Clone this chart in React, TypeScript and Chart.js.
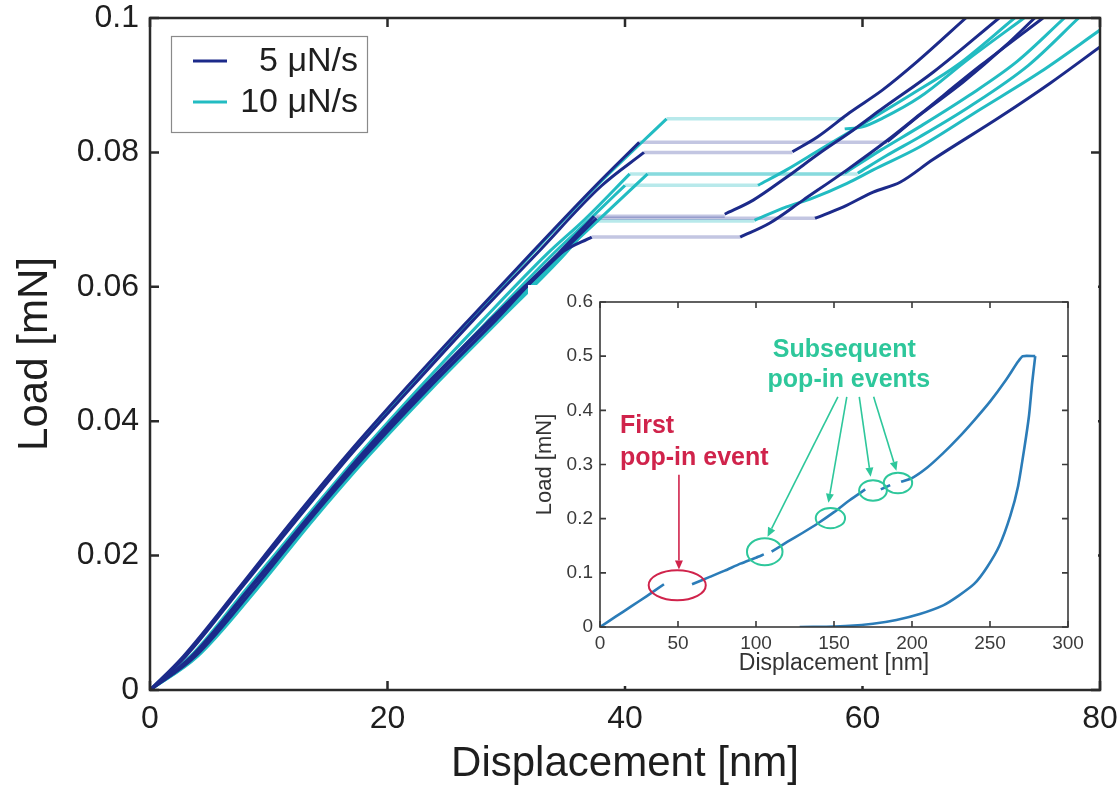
import React, { useEffect, useRef } from 'react';
import { Chart, registerables } from 'chart.js';

Chart.register(...registerables);

const FONT = "'Liberation Sans', Arial, Helvetica, sans-serif";

// ---------- main chart axes ----------
const xTicks = [0, 20, 40, 60, 80];
const xTickLabels = ['0', '20', '40', '60', '80'];
const yTicks = [0, 0.02, 0.04, 0.06, 0.08, 0.1];
const yTickLabels = ['0', '0.02', '0.04', '0.06', '0.08', '0.1'];
const seriesNames = ['5 μN/s', '10 μN/s'];

// ---------- 5 μN/s tests (loading up to the pop-in, loading after the pop-in) ----------
const n1LoadX = [0, 2.8, 7.4, 11.9, 16.6, 21.6, 26.8, 32.1, 37.5, 41.2];
const n1LoadY = [0, 0.005, 0.015, 0.025, 0.035, 0.045, 0.055, 0.065, 0.075, 0.0815];
const n1PostX = [62.1, 65, 68.5, 72, 74.5];
const n1PostY = [0.0816, 0.0858, 0.0905, 0.0958, 0.1];

const n2LoadX = [0, 3.0, 7.6, 12.2, 16.9, 22.0, 27.2, 32.6, 38.0, 41.6];
const n2LoadY = [0, 0.005, 0.015, 0.025, 0.035, 0.045, 0.055, 0.065, 0.075, 0.08];
const n2PostX = [54.1, 56.2, 58.9, 61.7, 64.6, 68.7];
const n2PostY = [0.0801, 0.0823, 0.0859, 0.0893, 0.0935, 0.1];

const n3LoadX = [0, 3.5, 8.3, 13.0, 17.8, 23.0, 28.6, 34.4, 37.4];
const n3LoadY = [0, 0.005, 0.015, 0.025, 0.035, 0.045, 0.055, 0.065, 0.0705];
const n3PostX = [48.4, 50.8, 53.6, 56.4, 59.2, 61.5, 66, 71.5];
const n3PostY = [0.0708, 0.0729, 0.0763, 0.0799, 0.0833, 0.0863, 0.092, 0.1];

const n4LoadX = [0, 3.8, 8.7, 13.3, 18.2, 23.5, 29.1, 34.6, 37.2];
const n4LoadY = [0, 0.005, 0.015, 0.025, 0.035, 0.045, 0.055, 0.065, 0.0674];
const n4PostX = [49.7, 52.2, 55.0, 58.7, 62.1, 64.8, 70, 75.2];
const n4PostY = [0.0674, 0.0695, 0.0729, 0.0774, 0.0818, 0.0856, 0.093, 0.1];

const n5LoadX = [0, 3.6, 8.4, 13.1, 18.0, 23.2, 28.8, 34.6, 37.6];
const n5LoadY = [0, 0.005, 0.015, 0.025, 0.035, 0.045, 0.055, 0.065, 0.0702];
const n5PostX = [56.0, 58.4, 60.9, 63.2, 65.9, 71.6, 75.8, 80];
const n5PostY = [0.0702, 0.0719, 0.0741, 0.0756, 0.0789, 0.0853, 0.0903, 0.0957];

// ---------- 10 μN/s tests ----------
const c1LoadX = [0, 2.9, 7.5, 12.0, 16.7, 21.7, 26.9, 32.2, 37.6, 43.5];
const c1LoadY = [0, 0.005, 0.015, 0.025, 0.035, 0.045, 0.055, 0.065, 0.075, 0.085];
const c1PostX = [58.5, 60.0, 61.7, 64.8, 69, 73.6];
const c1PostY = [0.0835, 0.0838, 0.0851, 0.0882, 0.094, 0.1];

const c2LoadX = [0, 3.4, 8.1, 12.8, 17.6, 22.7, 28.0, 33.5, 36.6, 40.4];
const c2LoadY = [0, 0.005, 0.015, 0.025, 0.035, 0.045, 0.055, 0.065, 0.07, 0.0768];
const c2PostX = [58.5, 61.5, 64.8, 69, 73, 77];
const c2PostY = [0.0769, 0.0803, 0.0838, 0.0885, 0.0935, 0.1];

const c3LoadX = [0, 3.6, 8.4, 13.1, 17.9, 23.1, 28.5, 34.0, 37.0, 40.0];
const c3LoadY = [0, 0.005, 0.015, 0.025, 0.035, 0.045, 0.055, 0.065, 0.07, 0.0751];
const c3PostX = [51.2, 53.6, 56.5, 60, 64, 68, 72.8];
const c3PostY = [0.0751, 0.0774, 0.0805, 0.0842, 0.0885, 0.093, 0.1];

const c4LoadX = [0, 4.0, 9.0, 13.6, 18.5, 23.8, 29.4, 35.0, 37.3];
const c4LoadY = [0, 0.005, 0.015, 0.025, 0.035, 0.045, 0.055, 0.065, 0.0698];
const c4PostX = [50.9, 53.6, 55.8, 58.7, 60.9, 64.8, 70, 75, 80];
const c4PostY = [0.0699, 0.0719, 0.0732, 0.0754, 0.0774, 0.0808, 0.0865, 0.092, 0.0982];

const c5LoadX = [0, 3.9, 8.8, 13.5, 18.3, 23.6, 29.2, 34.8, 37.8, 41.9];
const c5LoadY = [0, 0.005, 0.015, 0.025, 0.035, 0.045, 0.055, 0.065, 0.07, 0.0768];
const c5PostX = [59.6, 62, 64.8, 69, 74, 78.2];
const c5PostY = [0.0769, 0.0795, 0.0823, 0.0868, 0.093, 0.1];

// ---------- inset ----------
const insetXTicks = [0, 50, 100, 150, 200, 250, 300];
const insetXTickLabels = ['0', '50', '100', '150', '200', '250', '300'];
const insetYTicks = [0, 0.1, 0.2, 0.3, 0.4, 0.5, 0.6];
const insetYTickLabels = ['0', '0.1', '0.2', '0.3', '0.4', '0.5', '0.6'];

const insetSeg1X = [0, 10, 20, 30, 41];
const insetSeg1Y = [0, 0.019, 0.038, 0.057, 0.079];
const insetSeg2X = [59, 70, 80, 90, 100, 105];
const insetSeg2Y = [0.079, 0.092, 0.104, 0.117, 0.128, 0.134];
const insetSeg3X = [110, 120, 130, 140, 150, 160, 170];
const insetSeg3Y = [0.139, 0.157, 0.174, 0.192, 0.212, 0.234, 0.254];
const insetSeg4X = [180, 186];
const insetSeg4Y = [0.254, 0.262];
const insetSeg5X = [193, 200, 210, 220, 230, 240, 250, 260, 268, 271, 279];
const insetSeg5Y = [0.268, 0.275, 0.295, 0.321, 0.35, 0.382, 0.416, 0.455, 0.49, 0.5, 0.5];
const insetUnloadX = [279, 277, 275, 272, 268, 263, 256, 248, 240, 230, 220, 205, 190, 175, 160, 145, 128];
const insetUnloadY = [0.5, 0.45, 0.39, 0.33, 0.26, 0.205, 0.15, 0.11, 0.08, 0.058, 0.04, 0.024, 0.013, 0.006, 0.002, 0.0005, 0];

// pop-in markers (ellipses) in data units
const ellipseCx = [49.5, 105.6, 147.7, 175, 191];
const ellipseCy = [0.077, 0.139, 0.201, 0.252, 0.266];
const ellipseRx = [18.3, 11.4, 9.4, 8.9, 9.1];
const ellipseRy = [0.0277, 0.025, 0.0185, 0.019, 0.019];

// arrows: start -> end in data units
const redArrowFrom = [50.6, 0.281];
const redArrowTo = [50.6, 0.106];
const greenArrowFromX = [152.5, 158.2, 166.2, 175.4];
const greenArrowFromY = [0.425, 0.425, 0.425, 0.425];
const greenArrowToX = [107.4, 146.4, 173.5, 190];
const greenArrowToY = [0.1667, 0.2295, 0.2775, 0.2886];

const firstLabel = ['First', 'pop-in event'];
const firstLabelX = [12.8, 12.8];
const firstLabelY = [0.37, 0.311];
const subsLabel = ['Subsequent', 'pop-in events'];
const subsLabelX = [156.6, 159.5];
const subsLabelY = [0.511, 0.456];

// ---------- styles ----------
const NAVY = '#1c2a8a';
const CYAN = '#22bcc2';
const NAVY_FADED = 'rgba(40, 52, 150, 0.28)';
const CYAN_FADED = 'rgba(34, 188, 194, 0.32)';
const INSET_LINE = '#2b7cb8';
const RED = '#d0234b';
const GREEN = '#2ec79b';

type Test = { lx: number[]; ly: number[]; px: number[]; py: number[] };

const rate5: Test[] = [
  { lx: n1LoadX, ly: n1LoadY, px: n1PostX, py: n1PostY },
  { lx: n2LoadX, ly: n2LoadY, px: n2PostX, py: n2PostY },
  { lx: n3LoadX, ly: n3LoadY, px: n3PostX, py: n3PostY },
  { lx: n4LoadX, ly: n4LoadY, px: n4PostX, py: n4PostY },
  { lx: n5LoadX, ly: n5LoadY, px: n5PostX, py: n5PostY },
];
const rate10: Test[] = [
  { lx: c1LoadX, ly: c1LoadY, px: c1PostX, py: c1PostY },
  { lx: c2LoadX, ly: c2LoadY, px: c2PostX, py: c2PostY },
  { lx: c3LoadX, ly: c3LoadY, px: c3PostX, py: c3PostY },
  { lx: c4LoadX, ly: c4LoadY, px: c4PostX, py: c4PostY },
  { lx: c5LoadX, ly: c5LoadY, px: c5PostX, py: c5PostY },
];

const pts = (xs: number[], ys: number[]) => xs.map((x, i) => ({ x, y: ys[i] }));

function buildTests(tests: Test[], label: string, color: string, faded: string, order: number) {
  const out: any[] = [];
  tests.forEach((t) => {
    const endX = t.lx[t.lx.length - 1];
    const endY = t.ly[t.ly.length - 1];
    const common = { showLine: true, pointRadius: 0, fill: false, cubicInterpolationMode: 'monotone', label };
    out.push({ ...common, data: pts(t.lx, t.ly), borderColor: color, borderWidth: 3, order });
    out.push({ ...common, data: [{ x: endX, y: endY }, { x: t.px[0], y: endY }], borderColor: faded, borderWidth: 3.5, order: order + 5 });
    out.push({ ...common, data: pts(t.px, t.py), borderColor: color, borderWidth: 3, order });
  });
  return out;
}

function framePlugin(tickLen: number, color: string, width: number) {
  return {
    id: 'frame',
    afterDraw(chart: any) {
      const { ctx, chartArea: a, scales } = chart;
      ctx.save();
      ctx.strokeStyle = color;
      ctx.lineWidth = width;
      ctx.lineCap = 'butt';
      ctx.strokeRect(a.left, a.top, a.right - a.left, a.bottom - a.top);
      ctx.beginPath();
      for (const t of scales.x.ticks) {
        const px = scales.x.getPixelForValue(t.value);
        ctx.moveTo(px, a.bottom);
        ctx.lineTo(px, a.bottom - tickLen);
        ctx.moveTo(px, a.top);
        ctx.lineTo(px, a.top + tickLen);
      }
      for (const t of scales.y.ticks) {
        const py = scales.y.getPixelForValue(t.value);
        ctx.moveTo(a.left, py);
        ctx.lineTo(a.left + tickLen, py);
        ctx.moveTo(a.right, py);
        ctx.lineTo(a.right - tickLen, py);
      }
      ctx.stroke();
      ctx.restore();
    },
  };
}

const mainLegendPlugin = {
  id: 'mainLegend',
  afterDraw(chart: any) {
    const { ctx, chartArea: a } = chart;
    const bx = a.left + 21;
    const by = a.top + 18;
    const bw = 196;
    const bh = 96;
    ctx.save();
    ctx.fillStyle = '#ffffff';
    ctx.fillRect(bx, by, bw, bh);
    ctx.strokeStyle = '#8a8a8a';
    ctx.lineWidth = 1.2;
    ctx.strokeRect(bx + 0.5, by + 0.5, bw, bh);
    const colors = [NAVY, CYAN];
    seriesNames.forEach((name, i) => {
      const cy = by + 25 + i * 41;
      ctx.strokeStyle = colors[i];
      ctx.lineWidth = 3;
      ctx.beginPath();
      ctx.moveTo(bx + 22, cy);
      ctx.lineTo(bx + 56, cy);
      ctx.stroke();
      ctx.fillStyle = '#1e1e1e';
      ctx.font = `34px ${FONT}`;
      ctx.textAlign = 'right';
      ctx.textBaseline = 'middle';
      ctx.fillText(name, bx + bw - 9, cy + 1);
    });
    ctx.restore();
  },
};

function arrow(ctx: CanvasRenderingContext2D, x1: number, y1: number, x2: number, y2: number, color: string) {
  const ang = Math.atan2(y2 - y1, x2 - x1);
  const head = 9;
  const hw = 4;
  ctx.strokeStyle = color;
  ctx.fillStyle = color;
  ctx.lineWidth = 1.6;
  ctx.beginPath();
  ctx.moveTo(x1, y1);
  ctx.lineTo(x2 - head * Math.cos(ang), y2 - head * Math.sin(ang));
  ctx.stroke();
  ctx.beginPath();
  ctx.moveTo(x2, y2);
  ctx.lineTo(x2 - head * Math.cos(ang) + hw * Math.sin(ang), y2 - head * Math.sin(ang) - hw * Math.cos(ang));
  ctx.lineTo(x2 - head * Math.cos(ang) - hw * Math.sin(ang), y2 - head * Math.sin(ang) + hw * Math.cos(ang));
  ctx.closePath();
  ctx.fill();
}

const insetAnnotationPlugin = {
  id: 'insetAnnotations',
  afterDatasetsDraw(chart: any) {
    const { ctx, scales } = chart;
    const X = (v: number) => scales.x.getPixelForValue(v);
    const Y = (v: number) => scales.y.getPixelForValue(v);
    const pxPerX = Math.abs(X(1) - X(0));
    const pxPerY = Math.abs(Y(0) - Y(1));
    ctx.save();
    ellipseCx.forEach((cx, i) => {
      ctx.strokeStyle = i === 0 ? RED : GREEN;
      ctx.lineWidth = 2;
      ctx.beginPath();
      ctx.ellipse(X(cx), Y(ellipseCy[i]), ellipseRx[i] * pxPerX, ellipseRy[i] * pxPerY, 0, 0, Math.PI * 2);
      ctx.stroke();
    });
    arrow(ctx, X(redArrowFrom[0]), Y(redArrowFrom[1]), X(redArrowTo[0]), Y(redArrowTo[1]), RED);
    greenArrowFromX.forEach((fx, i) => {
      arrow(ctx, X(fx), Y(greenArrowFromY[i]), X(greenArrowToX[i]), Y(greenArrowToY[i]), GREEN);
    });
    ctx.font = `bold 25px ${FONT}`;
    ctx.textBaseline = 'middle';
    ctx.fillStyle = RED;
    ctx.textAlign = 'left';
    firstLabel.forEach((s, i) => ctx.fillText(s, X(firstLabelX[i]), Y(firstLabelY[i])));
    ctx.fillStyle = GREEN;
    ctx.textAlign = 'center';
    subsLabel.forEach((s, i) => ctx.fillText(s, X(subsLabelX[i]), Y(subsLabelY[i])));
    ctx.restore();
  },
};

const zeroPadX = (s: any, h: number) => { s.height = h; s.paddingLeft = 0; s.paddingRight = 0; };
const zeroPadY = (s: any, w: number) => { s.width = w; s.paddingTop = 0; s.paddingBottom = 0; };

export default function App() {
  const mainRef = useRef<HTMLCanvasElement>(null);
  const insetRef = useRef<HTMLCanvasElement>(null);

  useEffect(() => {
    const datasets = [
      ...buildTests(rate5, seriesNames[0], NAVY, NAVY_FADED, 1),
      ...buildTests(rate10, seriesNames[1], CYAN, CYAN_FADED, 2),
    ];
    const main = new Chart(mainRef.current as HTMLCanvasElement, {
      type: 'scatter',
      data: { datasets },
      options: {
        animation: false,
        responsive: false,
        devicePixelRatio: 1,
        layout: { padding: { top: 18, right: 20, left: 0, bottom: 0 } },
        plugins: { legend: { display: false }, tooltip: { enabled: false } },
        scales: {
          x: {
            type: 'linear',
            min: 0,
            max: 80,
            afterBuildTicks: (s: any) => { s.ticks = xTicks.map((v) => ({ value: v })); },
            afterFit: (s: any) => zeroPadX(s, 101),
            grid: { display: false, drawTicks: false },
            border: { display: false },
            ticks: {
              autoSkip: false,
              maxRotation: 0,
              padding: 10,
              color: '#1e1e1e',
              font: { family: FONT, size: 32 },
              callback: (v: any) => xTickLabels[xTicks.indexOf(Number(v))],
            },
            title: { display: true, text: 'Displacement [nm]', color: '#1e1e1e', font: { family: FONT, size: 42 }, padding: { top: 0, bottom: 1 } },
          },
          y: {
            type: 'linear',
            min: 0,
            max: 0.1,
            afterBuildTicks: (s: any) => { s.ticks = yTicks.map((v) => ({ value: v })); },
            afterFit: (s: any) => zeroPadY(s, 150),
            grid: { display: false, drawTicks: false },
            border: { display: false },
            ticks: {
              autoSkip: false,
              padding: 11,
              color: '#1e1e1e',
              font: { family: FONT, size: 32 },
              callback: (v: any) => yTickLabels[yTicks.findIndex((t) => Math.abs(t - Number(v)) < 1e-9)],
            },
            title: { display: true, text: 'Load [mN]', color: '#1e1e1e', font: { family: FONT, size: 42 }, padding: { top: 10, bottom: 0 } },
          },
        },
      },
      plugins: [framePlugin(9, '#2a2a2a', 2.5), mainLegendPlugin],
    } as any);

    const insetCommon = { showLine: true, pointRadius: 0, fill: false, tension: 0.2, borderColor: INSET_LINE, borderWidth: 2.6 };
    const inset = new Chart(insetRef.current as HTMLCanvasElement, {
      type: 'scatter',
      data: {
        datasets: [
          { ...insetCommon, data: pts(insetSeg1X, insetSeg1Y) },
          { ...insetCommon, data: pts(insetSeg2X, insetSeg2Y) },
          { ...insetCommon, data: pts(insetSeg3X, insetSeg3Y) },
          { ...insetCommon, data: pts(insetSeg4X, insetSeg4Y) },
          { ...insetCommon, data: pts(insetSeg5X, insetSeg5Y) },
          { ...insetCommon, data: pts(insetUnloadX, insetUnloadY) },
        ],
      },
      options: {
        animation: false,
        responsive: false,
        devicePixelRatio: 1,
        layout: { padding: { top: 17, right: 30, left: 0, bottom: 0 } },
        plugins: { legend: { display: false }, tooltip: { enabled: false } },
        scales: {
          x: {
            type: 'linear',
            min: 0,
            max: 300,
            afterBuildTicks: (s: any) => { s.ticks = insetXTicks.map((v) => ({ value: v })); },
            afterFit: (s: any) => zeroPadX(s, 59),
            grid: { display: false, drawTicks: false },
            border: { display: false },
            ticks: {
              autoSkip: false,
              maxRotation: 0,
              padding: 5,
              color: '#3a3a3a',
              font: { family: FONT, size: 19 },
              callback: (v: any) => insetXTickLabels[insetXTicks.indexOf(Number(v))],
            },
            title: { display: true, text: 'Displacement [nm]', color: '#333333', font: { family: FONT, size: 23 }, padding: { top: 0, bottom: 9 } },
          },
          y: {
            type: 'linear',
            min: 0,
            max: 0.6,
            afterBuildTicks: (s: any) => { s.ticks = insetYTicks.map((v) => ({ value: v })); },
            afterFit: (s: any) => zeroPadY(s, 72),
            grid: { display: false, drawTicks: false },
            border: { display: false },
            ticks: {
              autoSkip: false,
              padding: 7,
              color: '#3a3a3a',
              font: { family: FONT, size: 19 },
              callback: (v: any) => insetYTickLabels[insetYTicks.findIndex((t) => Math.abs(t - Number(v)) < 1e-9)],
            },
            title: { display: true, text: 'Load [mN]', color: '#333333', font: { family: FONT, size: 22 }, padding: { top: 4, bottom: 0 } },
          },
        },
      },
      plugins: [framePlugin(6, '#3a3a3a', 1.6), insetAnnotationPlugin],
    } as any);

    return () => {
      main.destroy();
      inset.destroy();
    };
  }, []);

  return (
    <div style={{ position: 'fixed', left: 0, top: 0, width: 1120, height: 791, background: '#ffffff' }}>
      <canvas ref={mainRef} width={1120} height={791} style={{ position: 'absolute', left: 0, top: 0, width: 1120, height: 791 }} />
      <canvas ref={insetRef} width={570} height={401} style={{ position: 'absolute', left: 528, top: 285, width: 570, height: 401, background: '#ffffff' }} />
    </div>
  );
}
